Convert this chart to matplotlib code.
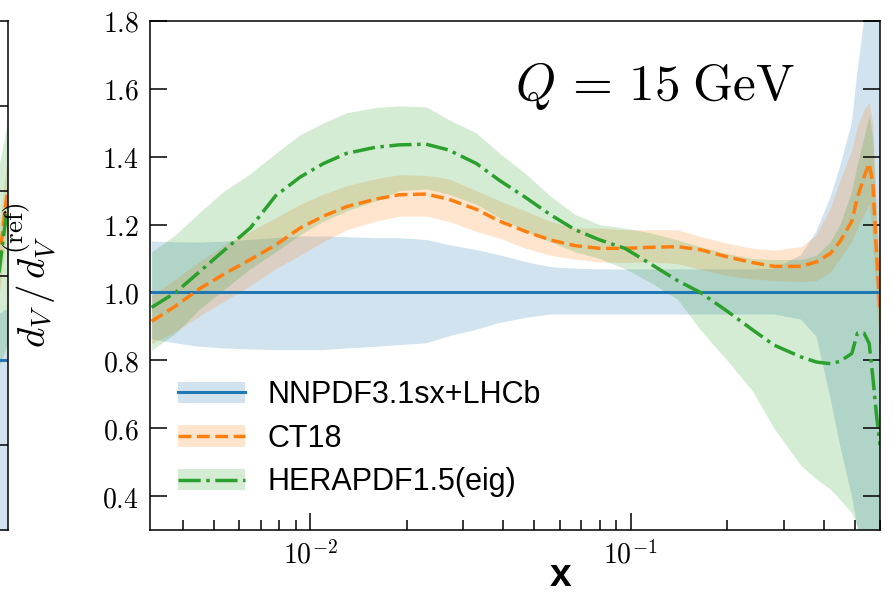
import numpy as np
import matplotlib
matplotlib.use("Agg")
import matplotlib.pyplot as plt
from matplotlib.patches import Patch
from matplotlib.lines import Line2D
from matplotlib.ticker import FixedLocator, LogLocator, NullFormatter

plt.rcParams["mathtext.fontset"] = "cm"

# ---- data: ratio to reference d_V at Q = 15 GeV ----
x = [0.0032, 0.0038, 0.0045, 0.0054, 0.0065, 0.0078, 0.0093, 0.011, 0.013,
     0.016, 0.019, 0.023, 0.027, 0.033, 0.039, 0.047, 0.056, 0.067, 0.080,
     0.096, 0.115, 0.14, 0.165, 0.20, 0.24, 0.28, 0.34, 0.38, 0.42, 0.45,
     0.49, 0.51, 0.535, 0.555, 0.57, 0.585, 0.60]

nnpdf_central = [1.0] * len(x)
nnpdf_hi = [1.15, 1.148, 1.147, 1.15, 1.155, 1.16, 1.165, 1.165, 1.163, 1.16,
            1.16, 1.155, 1.14, 1.125, 1.11, 1.09, 1.075, 1.07, 1.068, 1.068,
            1.068, 1.068, 1.068, 1.068, 1.068, 1.07, 1.11, 1.18, 1.28, 1.37,
            1.5, 1.65, 1.8, 1.95, 2.1, 2.2, 2.3]
nnpdf_lo = [0.862, 0.85, 0.84, 0.835, 0.832, 0.83, 0.83, 0.83, 0.835, 0.84,
            0.845, 0.85, 0.87, 0.89, 0.91, 0.925, 0.935, 0.935, 0.935, 0.935,
            0.935, 0.935, 0.935, 0.935, 0.935, 0.935, 0.92, 0.87, 0.69, 0.55,
            0.4, 0.31, 0.2, 0.1, 0.0, -0.1, -0.2]

ct18_central = [0.915, 0.96, 1.01, 1.055, 1.097, 1.14, 1.19, 1.225, 1.253,
                1.275, 1.288, 1.29, 1.275, 1.245, 1.21, 1.18, 1.155, 1.138,
                1.13, 1.13, 1.133, 1.135, 1.126, 1.105, 1.088, 1.077, 1.077,
                1.09, 1.115, 1.15, 1.21, 1.28, 1.34, 1.38, 1.32, 1.12, 0.95]
ct18_hi = [0.99, 1.04, 1.09, 1.14, 1.18, 1.22, 1.26, 1.29, 1.315, 1.335,
           1.347, 1.345, 1.335, 1.30, 1.27, 1.24, 1.21, 1.19, 1.19, 1.185,
           1.185, 1.185, 1.165, 1.145, 1.13, 1.125, 1.135, 1.17, 1.25, 1.33,
           1.42, 1.49, 1.54, 1.56, 1.5, 1.25, 1.05]
ct18_lo = [0.85, 0.885, 0.93, 0.975, 1.02, 1.07, 1.11, 1.15, 1.185, 1.21,
           1.225, 1.225, 1.21, 1.18, 1.16, 1.13, 1.11, 1.098, 1.09, 1.088,
           1.09, 1.085, 1.068, 1.05, 1.04, 1.035, 1.032, 1.035, 1.06, 1.1,
           1.15, 1.19, 1.23, 1.26, 1.15, 0.95, 0.85]

hera_central = [0.956, 1.0, 1.06, 1.125, 1.19, 1.285, 1.34, 1.38, 1.41,
                1.428, 1.435, 1.437, 1.42, 1.38, 1.33, 1.28, 1.23, 1.185,
                1.155, 1.13, 1.085, 1.035, 1.0, 0.945, 0.89, 0.845, 0.81,
                0.795, 0.79, 0.797, 0.82, 0.88, 0.88, 0.85, 0.75, 0.64, 0.55]
hera_hi = [1.12, 1.17, 1.235, 1.30, 1.35, 1.41, 1.465, 1.50, 1.53, 1.545,
           1.55, 1.547, 1.51, 1.47, 1.41, 1.35, 1.285, 1.23, 1.2, 1.19,
           1.176, 1.155, 1.135, 1.115, 1.1, 1.097, 1.097, 1.11, 1.15, 1.2,
           1.3, 1.38, 1.46, 1.52, 1.45, 1.2, 1.0]
hera_lo = [0.83, 0.88, 0.95, 1.01, 1.07, 1.12, 1.17, 1.21, 1.24, 1.27,
           1.30, 1.305, 1.29, 1.26, 1.22, 1.18, 1.15, 1.12, 1.1, 1.07,
           1.03, 0.98, 0.89, 0.80, 0.71, 0.60, 0.49, 0.45, 0.42, 0.39,
           0.35, 0.31, 0.25, 0.2, 0.1, 0.0, 0.0]

labels = ["NNPDF3.1sx+LHCb", "CT18", "HERAPDF1.5(eig)"]
colors = ["#1f77b4", "#ff7f0e", "#2ca02c"]
styles = ["-", "--", "-."]

# neighbouring panel (only its right edge falls inside the figure)
nb_x = [0.85, 0.9, 0.95, 1.0]
nb_blue_hi = [1.14, 1.14, 1.15, 1.15]
nb_blue_lo = [0.4, 0.4, 0.4, 0.4]
nb_ct18 = [1.25, 1.33, 1.42, 1.5]
nb_ct18_hi = [1.35, 1.43, 1.52, 1.6]
nb_ct18_lo = [1.15, 1.23, 1.32, 1.4]
nb_hera = [1.22, 1.3, 1.38, 1.45]
nb_hera_hi = [1.55, 1.6, 1.65, 1.7]
nb_hera_lo = [0.95, 1.0, 1.02, 1.05]

W, H = 894, 593
fig = plt.figure(figsize=(W / 100, H / 100), dpi=100)

# ---- neighbouring panel ----
axn = fig.add_axes([-60 / W, 63 / H, 67.5 / W, 509 / H])
axn.fill_between(nb_x, nb_blue_lo, nb_blue_hi, color=colors[0], alpha=0.2, lw=0)
axn.axhline(1.0, color=colors[0], lw=2.2)
axn.fill_between(nb_x, nb_ct18_lo, nb_ct18_hi, color=colors[1], alpha=0.2, lw=0)
axn.plot(nb_x, nb_ct18, color=colors[1], ls="--", lw=2.5)
axn.fill_between(nb_x, nb_hera_lo, nb_hera_hi, color=colors[2], alpha=0.2, lw=0)
axn.plot(nb_x, nb_hera, color=colors[2], ls="-.", lw=2.5)
axn.set_xlim(0, 1)
axn.set_ylim(0.5, 2.0)
axn.set_yticks([0.75, 1.0, 1.25, 1.5, 1.75])
axn.set_xticks([])
axn.tick_params(axis="y", direction="in", left=False, right=True,
                labelleft=False, length=12, width=1.1)
for s in axn.spines.values():
    s.set_linewidth(1.1)

# ---- main panel ----
ax = fig.add_axes([150 / W, 63 / H, 730 / W, 509 / H])
series = [(nnpdf_central, nnpdf_lo, nnpdf_hi),
          (ct18_central, ct18_lo, ct18_hi),
          (hera_central, hera_lo, hera_hi)]
handles = []
for (c, lo, hi), col, ls, lab in zip(series, colors, styles, labels):
    lw = 2.5 if ls != "-" else 2.2
    ax.fill_between(x, lo, hi, color=col, alpha=0.2, lw=0)
    ax.plot(x, c, color=col, ls=ls, lw=lw)
    handles.append((Patch(facecolor=col, alpha=0.2, edgecolor="none"),
                    Line2D([], [], color=col, ls=ls, lw=lw)))

ax.set_xscale("log")
ax.set_xlim(10 ** -2.5, 0.6)
ax.set_ylim(0.3, 1.8)

ax.xaxis.set_major_locator(FixedLocator([0.01, 0.1]))
ax.set_xticklabels([r"$10^{-2}$", r"$10^{-1}$"])
ax.xaxis.set_minor_locator(LogLocator(base=10, subs=np.arange(2, 10)))
ax.xaxis.set_minor_formatter(NullFormatter())
yt = [0.4, 0.6, 0.8, 1.0, 1.2, 1.4, 1.6, 1.8]
ax.set_yticks(yt)
ax.set_yticklabels([rf"${v:.1f}$" for v in yt])

ax.tick_params(which="both", direction="in", top=False, right=True,
               labelsize=20, width=1.1)
ax.tick_params(which="major", length=12, pad=8)
ax.tick_params(which="minor", length=7)
for s in ax.spines.values():
    s.set_linewidth(1.1)

ax.set_ylabel(r"$d_V\,/\,d_V^{(\mathrm{ref})}$", fontsize=28)
ax.yaxis.set_label_coords(-0.125, 0.5)
ax.set_xlabel("x", fontsize=28, fontweight="bold", family="Liberation Sans")
ax.xaxis.set_label_coords(0.563, -0.110)
ax.xaxis.label.set_va("baseline")

ax.text(0.5, 0.845, r"$Q\,=\,15\;\mathrm{GeV}$", transform=ax.transAxes,
        fontsize=37, ha="left", va="baseline")

ax.legend(handles, labels, loc="lower left", frameon=False,
          prop={"family": "Liberation Sans", "size": 22},
          handlelength=2.2, handletextpad=0.75, labelspacing=0.45,
          bbox_to_anchor=(0.0, 0.01))

fig.savefig("out.png", dpi=100)
